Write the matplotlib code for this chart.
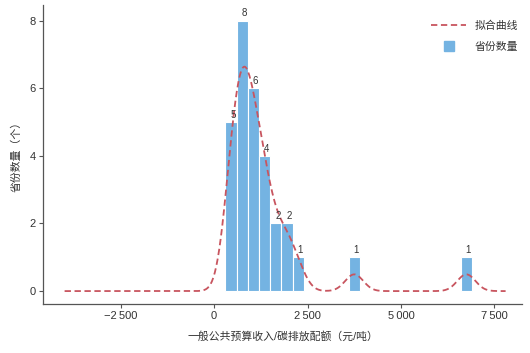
import numpy as np
import matplotlib
matplotlib.use('Agg')
import matplotlib.pyplot as plt
from matplotlib.lines import Line2D
from matplotlib.ticker import FuncFormatter

plt.rcParams['font.family'] = ['Liberation Sans', 'Noto Sans CJK SC', 'DejaVu Sans']

# histogram data: left edge of each bin (元/吨) and number of provinces
bin_left = [300, 600, 900, 1200, 1500, 1800, 2100, 3600, 6600]
counts = [5, 8, 6, 4, 2, 2, 1, 1, 1]
bin_width = 300
x_ticks = [-2500, 0, 2500, 5000, 7500]
y_ticks = [0, 2, 4, 6, 8]

bar_color = '#74b3e2'
line_color = '#c8555f'
text_color = '#333333'

centers = np.array(bin_left) + bin_width / 2
counts = np.array(counts)

# fitted curve: gaussian kernel density of the bins, scaled to counts
bw = 242
xs = np.linspace(-4000, 7800, 600)
dens = np.zeros_like(xs)
for c, n in zip(centers, counts):
    dens += n * np.exp(-0.5 * ((xs - c) / bw) ** 2) / (np.sqrt(2 * np.pi) * bw)
curve = dens * bin_width

fig = plt.figure(figsize=(5.3, 3.53), dpi=100)
ax = fig.add_axes([0.081, 0.139, 0.904, 0.847])

ax.bar(centers, counts, width=bin_width, color=bar_color,
       edgecolor='white', linewidth=0.8, zorder=2)
ax.plot(xs, curve, color=line_color, linestyle=(0, (3.5, 2)),
        linewidth=1.3, zorder=3)

for c, n in zip(centers, counts):
    ax.annotate(str(n), (c, n), xytext=(1.5, 1.5), textcoords='offset points',
                ha='center', va='bottom', fontsize=7, color=text_color)

ax.set_xlim(-4580, 8240)
ax.set_ylim(-0.38, 8.46)
ax.set_xticks(x_ticks)
ax.set_yticks(y_ticks)

def fmt(v, pos):
    s = '{:,.0f}'.format(abs(v)).replace(',', '\u2009')
    return ('\u2212' + s) if v < 0 else s

ax.xaxis.set_major_formatter(FuncFormatter(fmt))

for side in ['top', 'right']:
    ax.spines[side].set_visible(False)
for side in ['left', 'bottom']:
    ax.spines[side].set_color('#555555')
    ax.spines[side].set_linewidth(0.9)
ax.tick_params(axis='both', length=3, width=0.8, color='#555555',
               labelsize=8, labelcolor=text_color, pad=2)

ax.set_xlabel('一般公共预算收入/碳排放配额（元/吨）', fontsize=7.8,
              color=text_color, labelpad=7)
ax.set_ylabel('省份数量（个）', fontsize=7.8, color=text_color, labelpad=6)

handles = [Line2D([], [], color=line_color, linestyle=(0, (3.5, 2)), linewidth=1.3),
           Line2D([], [], color=bar_color, marker='s', linestyle='none', markersize=7)]
ax.legend(handles, ['拟合曲线', '省份数量'], loc='upper right', frameon=False,
          fontsize=7.8, handlelength=3.2, labelspacing=1.0,
          bbox_to_anchor=(1.012, 0.98), labelcolor=text_color)

fig.savefig('out.png', dpi=100)
